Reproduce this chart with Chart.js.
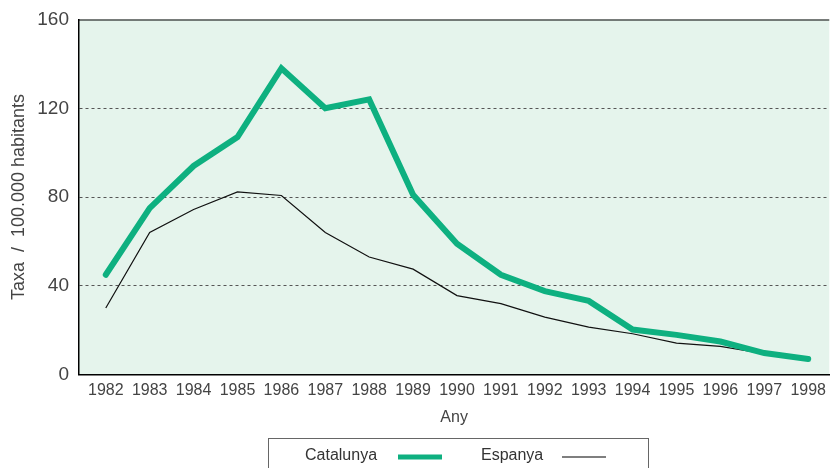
<!DOCTYPE html>
<html>
<head>
<meta charset="utf-8">
<script src="https://cdn.jsdelivr.net/npm/chart.js@4/dist/chart.umd.min.js"></script>
<style>
    html, body { margin: 0; padding: 0; background: #fff; }
    #wrap { width: 832px; height: 468px; position: relative; }
</style>
</head>
<body>
<div id="wrap"><canvas id="chart" width="832" height="468"></canvas></div>
<script>
// Data
const years = [1982, 1983, 1984, 1985, 1986, 1987, 1988, 1989, 1990, 1991, 1992, 1993, 1994, 1995, 1996, 1997, 1998];
const catalunya = [45, 75, 94, 107, 138, 120, 124, 81, 59, 45, 37.6, 33.2, 20.3, 17.9, 14.9, 9.7, 7];
const espanya = [30, 64, 74.4, 82.3, 80.7, 64, 53, 47.5, 35.6, 32, 25.9, 21.4, 18.4, 14.2, 12.7, 9.4, 7];
const yTicks = [0, 40, 80, 120, 160];

const green = "rgb(14, 176, 128)";
const mint = "rgb(229, 244, 236)";
const textColor = "#444";
const fontFamily = "'Liberation Sans', Arial, sans-serif";

// plot background, top border and custom legend box
const framePlugin = {
    id: "frame",
    beforeDraw(chart) {
        const { ctx, chartArea: a } = chart;
        ctx.save();
        ctx.fillStyle = mint;
        ctx.fillRect(a.left, a.top, a.right - a.left, a.bottom - a.top);
        ctx.restore();
    },
    afterDraw(chart) {
        const { ctx, chartArea: a } = chart;
        ctx.save();
        ctx.strokeStyle = "#000";
        ctx.lineWidth = 1.2;
        ctx.beginPath();
        ctx.moveTo(a.left, a.top + 0.5);
        ctx.lineTo(a.right, a.top + 0.5);
        ctx.stroke();

        // legend
        ctx.strokeStyle = "#666";
        ctx.lineWidth = 1;
        ctx.strokeRect(268.5, 438.5, 380, 40);
        ctx.font = "16px " + fontFamily;
        ctx.fillStyle = "#333";
        ctx.textBaseline = "middle";
        ctx.fillText("Catalunya", 305, 456);
        ctx.fillText("Espanya", 481, 456);
        ctx.strokeStyle = green;
        ctx.lineWidth = 5;
        ctx.beginPath();
        ctx.moveTo(398, 457);
        ctx.lineTo(442, 457);
        ctx.stroke();
        ctx.strokeStyle = "#000";
        ctx.lineWidth = 1.2;
        ctx.beginPath();
        ctx.moveTo(562, 457);
        ctx.lineTo(606, 457);
        ctx.stroke();
        ctx.restore();
    }
};

new Chart(document.getElementById("chart"), {
    type: "line",
    data: {
        datasets: [
            {
                label: "Catalunya",
                data: years.map((y, i) => ({ x: y, y: catalunya[i] })),
                borderColor: green,
                borderWidth: 6,
                borderCapStyle: "round",
                pointRadius: 0,
                tension: 0,
            },
            {
                label: "Espanya",
                data: years.map((y, i) => ({ x: y, y: espanya[i] })),
                borderColor: "#111",
                borderWidth: 1.2,
                pointRadius: 0,
                tension: 0,
            },
        ],
    },
    options: {
        responsive: false,
        animation: false,
        layout: { padding: { top: 3, right: 0, bottom: 41, left: 0 } },
        plugins: {
            legend: { display: false },
            tooltip: { enabled: false },
        },
        scales: {
            x: {
                type: "linear",
                min: 1981.39,
                max: 1998.48,
                afterBuildTicks: (axis) => { axis.ticks = years.map((v) => ({ value: v })); },
                ticks: {
                    callback: (v) => String(v),
                    color: textColor,
                    font: { family: fontFamily, size: 16 },
                    padding: 6,
                    maxRotation: 0,
                    autoSkip: false,
                },
                grid: { display: false, drawTicks: false },
                border: { display: true, color: "#000", width: 1.5 },
                title: {
                    display: true,
                    text: "Any",
                    color: textColor,
                    font: { family: fontFamily, size: 16 },
                    padding: { top: 2, bottom: 0 },
                },
            },
            y: {
                min: 0,
                max: 160,
                afterBuildTicks: (axis) => { axis.ticks = yTicks.map((v) => ({ value: v })); },
                afterFit: (axis) => { axis.width = 79; },
                ticks: {
                    color: textColor,
                    font: { family: fontFamily, size: 19, lineHeight: 1 },
                    padding: 10,
                },
                grid: {
                    drawTicks: false,
                    color: (c) => (c.tick && (c.tick.value === 0 || c.tick.value === 160)) ? "rgba(0,0,0,0)" : "#555",
                    lineWidth: 1,
                },
                border: { display: true, color: "#000", width: 1.5, dash: [3, 3] },
                title: {
                    display: true,
                    text: "Taxa  /  100.000 habitants",
                    color: textColor,
                    font: { family: fontFamily, size: 18 },
                    padding: { top: 8, bottom: 2 },
                },
            },
        },
    },
    plugins: [framePlugin],
});
</script>
</body>
</html>
